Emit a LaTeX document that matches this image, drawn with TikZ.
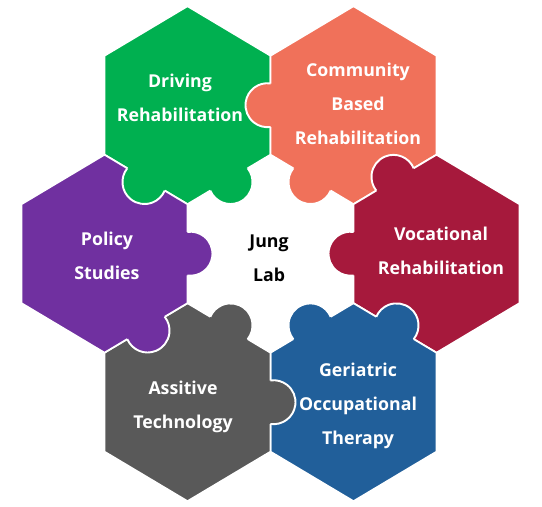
\documentclass[tikz,border=0pt]{standalone}
\usepackage{fontspec}
\setmainfont{Open Sans}
\usepackage{xcolor}
\usetikzlibrary{calc}

\definecolor{drvgreen}{HTML}{00B050}
\definecolor{comorange}{HTML}{F0715A}
\definecolor{vocred}{HTML}{A6193C}
\definecolor{gerblue}{HTML}{215F9A}
\definecolor{astgray}{HTML}{595959}
\definecolor{polpurple}{HTML}{7030A0}

\begin{document}
\begin{tikzpicture}[
    x=0.02cm, y=0.02cm,
    piece/.style={fill=#1, draw=white, line width=1pt, line join=round},
    seam/.style={draw=white, line width=1.1pt},
    topic/.style={text=white, font=\bfseries\fontsize{10.1}{19.3}\selectfont, align=center}
]
\useasboundingbox (0,0) rectangle (542,507);

% hexagon centres
\coordinate (lab) at (270.5,253.3);
\coordinate (drv) at ($(lab)+(-83,148.5)$);
\coordinate (com) at ($(lab)+(83,148.5)$);
\coordinate (voc) at ($(lab)+(166,0)$);
\coordinate (ger) at ($(lab)+(83,-148.5)$);
\coordinate (ast) at ($(lab)+(-83,-148.5)$);
\coordinate (pol) at ($(lab)+(-166,0)$);

% the six pieces
\foreach \c/\col in {drv/drvgreen, com/comorange, voc/vocred, ger/gerblue, ast/astgray, pol/polpurple} {
    \draw[piece=\col] (\c) ++(0,99) -- ++(-83,-49.5) -- ++(0,-99) -- ++(83,-49.5) -- ++(83,49.5) -- ++(0,99) -- cycle;
}

% knobs: centre / colour / edge midpoint / normal
\foreach \c/\col/\mx/\my/\a in {
    voc/vocred/-83/0/180, voc/vocred/-41.5/74.25/120.81,
    com/comorange/-41.5/-74.25/239.19, com/comorange/-83/0/180,
    drv/drvgreen/41.5/-74.25/300.81, drv/drvgreen/-41.5/-74.25/239.19,
    pol/polpurple/83/0/0, pol/polpurple/41.5/-74.25/300.81,
    ast/astgray/41.5/74.25/59.19, ast/astgray/83/0/0,
    ger/gerblue/-41.5/74.25/120.81, ger/gerblue/41.5/74.25/59.19} {
    \fill[\col] ($(\c)+(\mx,\my)+(\a:3)$) circle (22);
    \draw[seam] ($(\c)+(\mx,\my)+(\a:3)$) ++(\a-98:22) arc[start angle=\a-98, end angle=\a+98, radius=22];
}

\node[topic] (drvtxt) at (180,409) {Driving\\Rehabilitation};
\node[topic] (comtxt) at (358,403.5) {Community\\Based\\Rehabilitation};
\node[topic] (voctxt) at (441,256.5) {Vocational\\Rehabilitation};
\node[topic] (gertxt) at (358,101) {Geriatric\\Occupational\\Therapy};
\node[topic] (asttxt) at (183,100.3) {Assitive\\Technology};
\node[topic] (poltxt) at (107,251) {Policy\\Studies};
\node[topic, text=black] (labtxt) at (269,249) {Jung\\Lab};

\end{tikzpicture}
\end{document}
